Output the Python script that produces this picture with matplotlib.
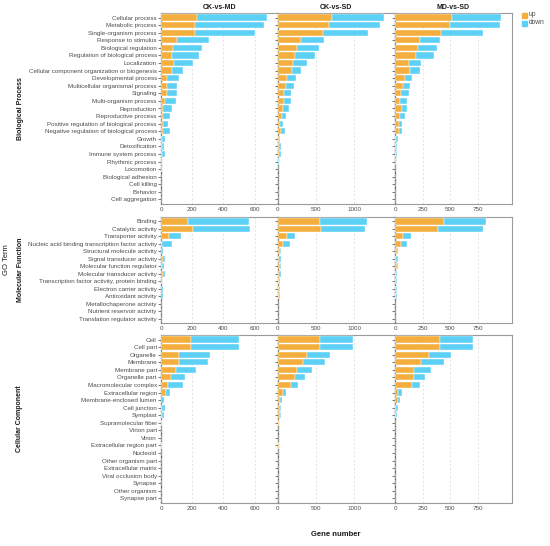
import matplotlib
matplotlib.use("Agg")
import matplotlib.pyplot as plt
from matplotlib.patches import Rectangle
import numpy as np

plt.rcParams["font.family"] = ["Liberation Sans", "DejaVu Sans"]

comparisons = ["CK-vs-MD", "CK-vs-SD", "MD-vs-SD"]
ontologies = ["Biological Process", "Molecular Function", "Cellular Component"]

bp_terms = ["Cellular process", "Metabolic process", "Single-organism process",
            "Response to stimulus", "Biological regulation", "Regulation of biological process",
            "Localization", "Cellular component organization or biogenesis",
            "Developmental process", "Multicellular organismal process", "Signaling",
            "Multi-organism process", "Reproduction", "Reproductive process",
            "Positive regulation of biological process", "Negative regulation of biological process",
            "Growth", "Detoxification", "Immune system process", "Rhythmic process",
            "Locomotion", "Biological adhesion", "Cell killing", "Behavior", "Cell aggregation"]
mf_terms = ["Binding", "Catalytic activity", "Transporter activity",
            "Nucleic acid binding transcription factor activity", "Structural molecule activity",
            "Signal transducer activity", "Molecular function regulator",
            "Molecular transducer activity", "Transcription factor activity, protein binding",
            "Electron carrier activity", "Antioxidant activity", "Metallochaperone activity",
            "Nutrient reservoir activity", "Translation regulator activity"]
cc_terms = ["Cell", "Cell part", "Organelle", "Membrane", "Membrane part", "Organelle part",
            "Macromolecular complex", "Extracellular region", "Membrane-enclosed lumen",
            "Cell junction", "Symplast", "Supramolecular fiber", "Virion part", "Virion",
            "Extracellular region part", "Nucleoid", "Other organism part", "Extracellular matrix",
            "Viral occlusion body", "Synapse", "Other organism", "Synapse part"]

# up counts and totals (up + down) per comparison
bp_up_ckmd = [228, 215, 215, 104, 79, 68, 83, 70, 40, 36, 36, 28, 15, 13, 11, 13, 4, 5, 6, 1, 1, 0, 0, 0, 0]
bp_tot_ckmd = [679, 660, 600, 307, 264, 243, 202, 141, 117, 102, 102, 94, 68, 55, 45, 55, 24, 21, 24, 6, 6, 1, 1, 1, 1]
bp_up_cksd = [711, 662, 592, 303, 254, 228, 202, 180, 123, 101, 75, 75, 70, 48, 26, 39, 12, 12, 12, 4, 2, 1, 0, 0, 0]
bp_tot_cksd = [1390, 1342, 1175, 605, 539, 491, 377, 298, 237, 206, 171, 167, 140, 110, 61, 88, 31, 35, 35, 9, 4, 3, 1, 1, 1]
bp_up_mdsd = [520, 502, 417, 225, 210, 192, 128, 134, 91, 76, 58, 49, 61, 49, 40, 36, 10, 5, 5, 2, 1, 0, 0, 0, 0]
bp_tot_mdsd = [961, 949, 797, 408, 380, 353, 240, 225, 158, 140, 125, 109, 109, 91, 64, 64, 24, 15, 15, 6, 3, 1, 1, 1, 1]

mf_up_ckmd = [174, 204, 52, 9, 2, 11, 6, 11, 2, 3, 3, 0, 0, 0]
mf_tot_ckmd = [566, 572, 131, 71, 15, 24, 19, 24, 9, 11, 13, 1, 1, 1]
mf_up_cksd = [548, 561, 118, 61, 22, 18, 22, 18, 15, 12, 10, 1, 0, 0]
mf_tot_cksd = [1167, 1140, 228, 154, 44, 44, 35, 35, 26, 22, 31, 2, 1, 1]
mf_up_mdsd = [441, 392, 70, 52, 20, 10, 15, 8, 12, 10, 6, 0, 0, 0]
mf_tot_mdsd = [824, 797, 146, 106, 24, 24, 24, 18, 18, 15, 15, 1, 1, 1]

cc_up_ckmd = [189, 189, 114, 118, 95, 62, 47, 34, 2, 9, 9, 4, 0, 0, 8, 0, 0, 0, 0, 0, 0, 0]
cc_tot_ckmd = [499, 499, 312, 303, 226, 155, 138, 58, 22, 24, 22, 9, 2, 2, 9, 1, 1, 1, 1, 1, 1, 1]
cc_up_cksd = [548, 548, 386, 329, 246, 228, 167, 66, 31, 26, 26, 8, 0, 0, 8, 0, 0, 0, 0, 0, 0, 0]
cc_tot_cksd = [987, 987, 684, 610, 443, 355, 268, 110, 53, 44, 39, 9, 4, 4, 9, 1, 1, 1, 1, 1, 1, 1]
cc_up_mdsd = [404, 404, 304, 237, 170, 173, 152, 24, 24, 6, 6, 3, 0, 0, 1, 0, 0, 0, 0, 0, 0, 0]
cc_tot_mdsd = [703, 703, 508, 444, 322, 274, 222, 61, 46, 24, 21, 3, 1, 1, 2, 1, 1, 1, 1, 1, 1, 1]

terms = [bp_terms, mf_terms, cc_terms]
ups = [[bp_up_ckmd, bp_up_cksd, bp_up_mdsd],
       [mf_up_ckmd, mf_up_cksd, mf_up_mdsd],
       [cc_up_ckmd, cc_up_cksd, cc_up_mdsd]]
tots = [[bp_tot_ckmd, bp_tot_cksd, bp_tot_mdsd],
        [mf_tot_ckmd, mf_tot_cksd, mf_tot_mdsd],
        [cc_tot_ckmd, cc_tot_cksd, cc_tot_mdsd]]
col_ticks = [[0, 200, 400, 600], [0, 500, 1000], [0, 250, 500, 750]]

UP = "#F4AE3D"
DOWN = "#5CD0F5"
W, H = 550, 546
fig = plt.figure(figsize=(5.5, 5.46), dpi=100)
fig.patch.set_facecolor("white")

col_x = [161, 278, 395]
col_w = 116.7
row_y = [(13, 204), (217, 323), (335, 503)]

for r in range(3):
    yt, yb = row_y[r]
    n = len(terms[r])
    for c in range(3):
        ax = fig.add_axes([col_x[c] / W, 1 - yb / H, col_w / W, (yb - yt) / H])
        up = np.array(ups[r][c], dtype=float)
        tot = np.array(tots[r][c], dtype=float)
        down = tot - up
        y = np.arange(n)
        ax.barh(y, up, height=0.82, color=UP, edgecolor="white", linewidth=0.3, zorder=3)
        ax.barh(y, down, left=up, height=0.82, color=DOWN, edgecolor="white", linewidth=0.3, zorder=3)
        xmax = max(max(tots[0][c]), max(tots[1][c]), max(tots[2][c])) * 1.1
        ax.set_xlim(0, xmax)
        ax.set_ylim(n - 0.4, -0.6)
        ax.set_xticks(col_ticks[c])
        ax.set_xticklabels([str(t) for t in col_ticks[c]])
        for t in col_ticks[c][1:]:
            ax.axvline(t, color="#d9d9d9", linestyle=(0, (3, 3)), linewidth=0.5, zorder=1)
        ax.set_yticks(y)
        if c == 0:
            ax.set_yticklabels(terms[r], fontsize=4.5, color="#4d4d4d")
        else:
            ax.set_yticklabels([])
        ax.tick_params(axis="y", length=2, width=0.5, color="#444444", pad=1)
        ax.tick_params(axis="x", length=0, labelsize=4.5, labelcolor="#4d4d4d", pad=2)
        for s in ["top", "right", "bottom"]:
            ax.spines[s].set_color("#9a9a9a")
            ax.spines[s].set_linewidth(0.8)
        ax.spines["left"].set_color("#666666")
        ax.spines["left"].set_linewidth(0.9)
        if r == 0:
            ax.set_title(comparisons[c], fontsize=5, fontweight="bold", pad=3, color="#1a1a1a")
    fig.text(20 / W, 1 - ((yt + yb) / 2) / H, ontologies[r], rotation=90, ha="center",
             va="center", fontsize=5, fontweight="bold", color="#1a1a1a")

fig.text(7 / W, 1 - 260 / H, "GO Term", rotation=90, ha="center", va="center",
         fontsize=5.5, color="#1a1a1a")
fig.text(336 / W, 1 - 534 / H, "Gene number", ha="center", va="center",
         fontsize=5.5, fontweight="bold", color="#1a1a1a")

# legend
for i, (lab, colr) in enumerate([("up", UP), ("down", DOWN)]):
    yc = 15 + i * 8
    fig.patches.append(Rectangle((522 / W, 1 - (yc + 2.5) / H), 5 / W, 5 / H,
                                 transform=fig.transFigure, color=colr, figure=fig))
    fig.text(529 / W, 1 - yc / H, lab, ha="left", va="center", fontsize=4.8, color="#4d4d4d")

fig.savefig("out.png", dpi=100, facecolor="white")
